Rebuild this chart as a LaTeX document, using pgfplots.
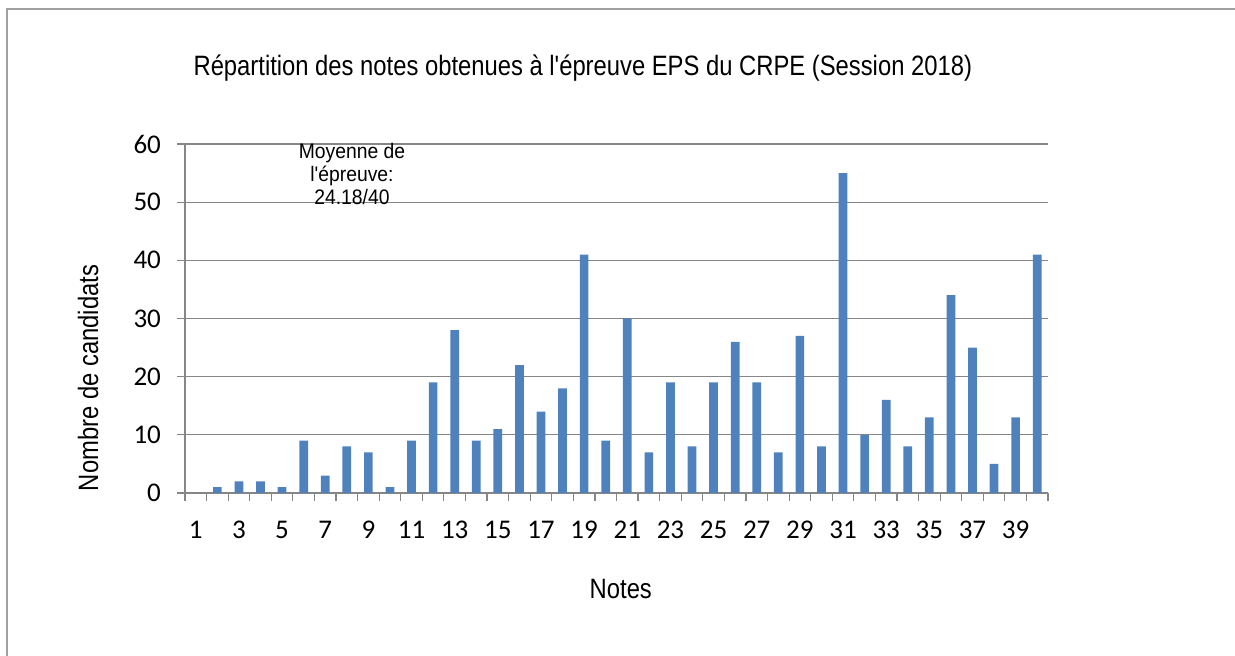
\documentclass[border=0pt]{standalone}
\usepackage{fontspec}
\setmainfont{Liberation Sans}
\newfontfamily\narrow[FakeStretch=0.85]{Liberation Sans}
\newfontfamily\annot[FakeStretch=0.92]{Liberation Sans}
\newfontfamily\calibri{Carlito}
\usepackage{pgfplots}
\pgfplotsset{compat=1.18}
\definecolor{barblue}{HTML}{4F81BD}
\definecolor{gridgray}{HTML}{868686}
\definecolor{framegray}{HTML}{A0A0A0}
\begin{document}
\begin{tikzpicture}[x=1pt,y=1pt]
\useasboundingbox (-92.5,-81.5) rectangle (525,246.5);
\begin{axis}[
  at={(0,0)}, anchor=south west,
  scale only axis, width=431.5pt, height=174.5pt,
  xmin=0.5, xmax=40.5, ymin=0, ymax=60,
  axis x line*=bottom, axis y line*=left,
  axis line style={gridgray, line width=0.6pt, -},
  xtick={1,3,...,39},
  minor xtick={0.5,1.5,...,40.5},
  major tick length=4pt,
  minor tick length=4pt,
  tick align=outside,
  xtick style={draw=none},
  minor x tick style={draw=gridgray, line width=0.6pt},
  ytick={0,10,...,60},
  ytick style={draw=gridgray, line width=0.6pt},
  ymajorgrids, grid style={gridgray, line width=0.6pt},
  /pgf/number format/assume math mode=true,
  ticklabel style={font=\calibri\fontsize{13.5}{14}\selectfont, text=black},
  xticklabel style={anchor=north, yshift=-6.5pt},
  yticklabel style={anchor=east, xshift=-4.5pt},
  ybar, bar width=4.35pt,
  title={R\'epartition des notes obtenues \`a l'\'epreuve EPS du CRPE (Session 2018)},
  title style={font=\narrow\fontsize{14}{16}\selectfont, at={(rel axis cs:0.461,1.183)}, anchor=center, yshift=0pt},
  xlabel={Notes},
  xlabel style={font=\narrow\fontsize{14}{16}\selectfont, at={(rel axis cs:0.505,-0.275)}, anchor=center},
  ylabel={Nombre de candidats},
  ylabel style={font=\narrow\fontsize{14}{16}\selectfont, at={(rel axis cs:-0.1124,0.3295)}, anchor=center},
  clip=false,
]
\addplot[fill=barblue, draw=none] coordinates {
(1,0) (2,1) (3,2) (4,2) (5,1) (6,9) (7,3) (8,8) (9,7) (10,1)
(11,9) (12,19) (13,28) (14,9) (15,11) (16,22) (17,14) (18,18) (19,41) (20,9)
(21,30) (22,7) (23,19) (24,8) (25,19) (26,26) (27,19) (28,7) (29,27) (30,8)
(31,55) (32,10) (33,16) (34,8) (35,13) (36,34) (37,25) (38,5) (39,13) (40,41)
};
\node[font=\annot\fontsize{10.5}{11.5}\selectfont, align=center] at (rel axis cs:0.1935,0.915) {Moyenne de\\l'\'epreuve:\\24.18/40};
\end{axis}
\draw[framegray, line width=1pt] (-89,-81.5) -- (-89,242) -- (525,242);
\end{tikzpicture}
\end{document}
